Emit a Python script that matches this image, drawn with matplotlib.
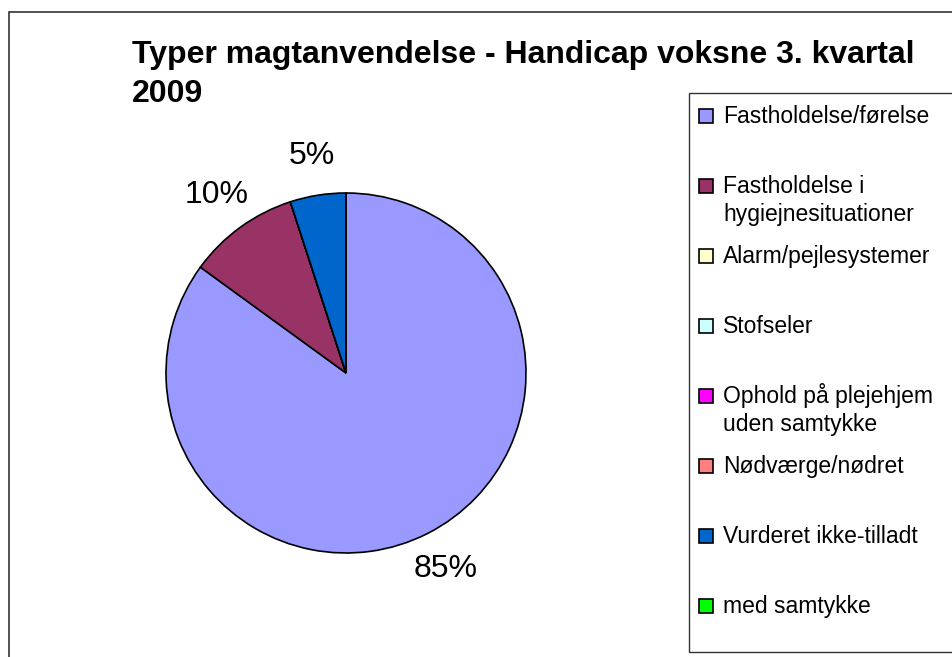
"""Pie chart: Typer magtanvendelse - Handicap voksne 3. kvartal 2009."""

import matplotlib
matplotlib.use("Agg")
import matplotlib.pyplot as plt
from matplotlib.patches import Rectangle

plt.rcParams["font.family"] = ["Liberation Sans", "DejaVu Sans"]

TITLE_LINES = ["Typer magtanvendelse - Handicap voksne 3. kvartal", "2009"]

CATEGORIES = [
    "Fastholdelse/førelse",
    "Fastholdelse i\nhygiejnesituationer",
    "Alarm/pejlesystemer",
    "Stofseler",
    "Ophold på plejehjem\nuden samtykke",
    "Nødværge/nødret",
    "Vurderet ikke-tilladt",
    "med samtykke",
]
VALUES = [85, 10, 0, 0, 0, 0, 5, 0]
COLORS = ["#9999FF", "#993366", "#FFFFCC", "#CCFFFF",
          "#FF00FF", "#FF8080", "#0066CC", "#00FF00"]

W, H = 952, 657
fig = plt.figure(figsize=(W / 100, H / 100), dpi=100)

# outer chart frame (runs off the right/bottom edge like the original)
fig.patches.append(Rectangle((9 / W, -0.1), 1.1, 1 - 12 / H + 0.1,
                             transform=fig.transFigure, fill=False,
                             edgecolor="#333333", linewidth=1.2))

# title, one text per line so the long line's box doesn't spill onto the legend
for j, line in enumerate(TITLE_LINES):
    fig.text(132 / W, 1 - (63 + 39 * j) / H, line, fontsize=23.0,
             fontweight="bold", ha="left", va="baseline")

# pie
R = 180
cx, cy = 346, 373
ax = fig.add_axes([(cx - R) / W, (H - cy - R) / H, 2 * R / W, 2 * R / H])
wedges, _, autotexts = ax.pie(
    VALUES, colors=COLORS, startangle=90, counterclock=False,
    wedgeprops=dict(edgecolor="black", linewidth=1.2),
    autopct=lambda p: f"{p:.0f}%" if p > 0 else "",
    pctdistance=1.22, radius=1.0,
)
for t in autotexts:
    t.set_fontsize(23)
ax.set_xlim(-1, 1)
ax.set_ylim(-1, 1)
ax.set_aspect("equal")

# legend box
fig.patches.append(Rectangle((689 / W, 1 - 652 / H), 0.5, (652 - 93) / H,
                             transform=fig.transFigure, fill=False,
                             edgecolor="#333333", linewidth=1.0))
y0, step, line_h = 116, 70.0, 28
for i, (lab, col) in enumerate(zip(CATEGORIES, COLORS)):
    y = y0 + i * step
    fig.patches.append(Rectangle((699 / W, 1 - (y + 7) / H), 14 / W, 14 / H,
                                 transform=fig.transFigure, facecolor=col,
                                 edgecolor="black", linewidth=1.2))
    # va="baseline" on multi-line text anchors the last line
    base = y + 7 + lab.count("\n") * line_h
    fig.text(723 / W, 1 - base / H, lab, fontsize=16.5, ha="left",
             va="baseline", linespacing=1.26)

fig.savefig("out.png", dpi=100)
